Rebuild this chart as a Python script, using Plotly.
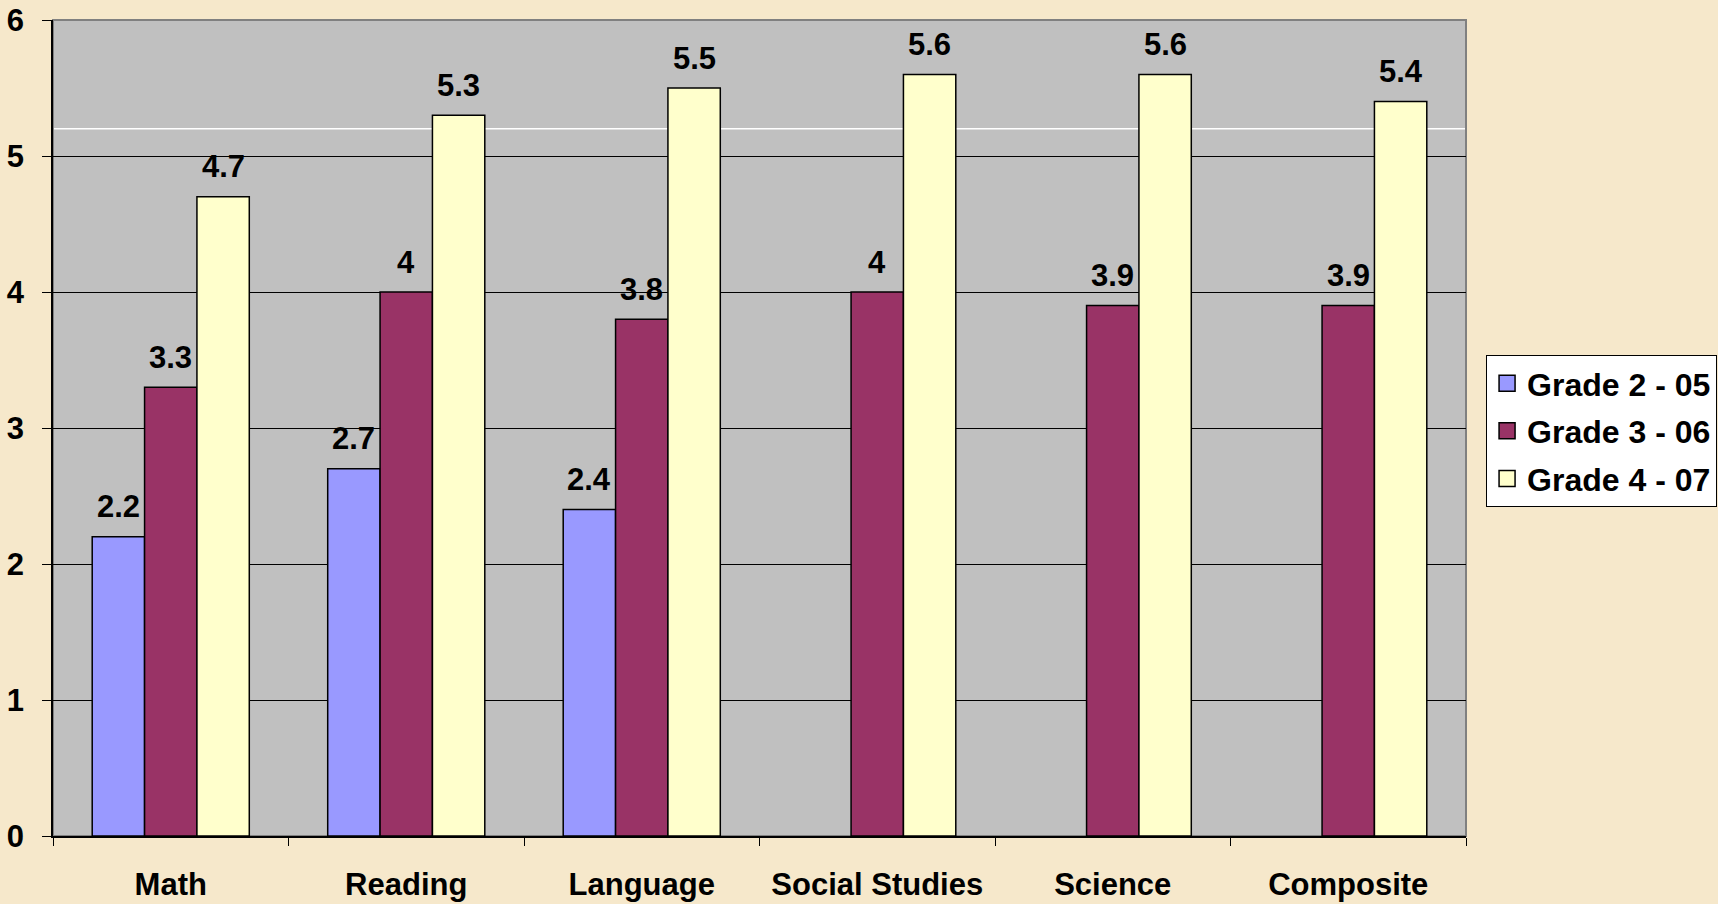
import plotly.graph_objects as go

categories = ["Math", "Reading", "Language", "Social Studies", "Science", "Composite"]
series_names = ["Grade 2 - 05", "Grade 3 - 06", "Grade 4 - 07"]
grade2_05 = [2.2, 2.7, 2.4, None, None, None]
grade3_06 = [3.3, 4.0, 3.8, 4.0, 3.9, 3.9]
grade4_07 = [4.7, 5.3, 5.5, 5.6, 5.6, 5.4]
y_ticks = [0, 1, 2, 3, 4, 5, 6]

colors = ["#9999FF", "#993366", "#FFFFCC"]
FONT = "Liberation Sans, Arial, sans-serif"
FS = 31

fig = go.Figure()
all_series = [grade2_05, grade3_06, grade4_07]
for name, vals, col in zip(series_names, all_series, colors):
    fig.add_trace(go.Bar(
        x=categories, y=vals, name=name, showlegend=False,
        marker=dict(color=col, line=dict(color="black", width=1.5)),
    ))
    # legend proxy with larger square swatch
    fig.add_trace(go.Scatter(
        x=[None], y=[None], mode="markers", name=name, legendgroup=name,
        marker=dict(symbol="square", size=16, color=col, line=dict(color="black", width=1.5)),
    ))

annotations = []
bar_px = 52.3
for i, vals in enumerate(all_series):
    for c, v in zip(categories, vals):
        if v is None:
            continue
        annotations.append(dict(
            x=c, y=v, text=f"<b>{v:g}</b>", showarrow=False,
            xshift=(i - 1) * bar_px, yshift=30, yanchor="middle",
            font=dict(family=FONT, size=FS, color="black"),
        ))

fig.update_layout(
    width=1718, height=904,
    margin=dict(l=53, r=252, t=20, b=68, autoexpand=False),
    paper_bgcolor="#f6e8cb",
    plot_bgcolor="#C0C0C0",
    barmode="group", bargap=0.333, bargroupgap=0,
    font=dict(family=FONT, size=FS, color="black"),
    annotations=annotations,
    legend=dict(
        x=1.0142, xanchor="left", y=0.5895, yanchor="top",
        bgcolor="white", bordercolor="black", borderwidth=1,
        font=dict(family=FONT, size=32, color="black", weight="bold"),
        tracegroupgap=3,
    ),
    shapes=[
        dict(type="line", xref="paper", yref="y", x0=0, x1=1, y0=5.2, y1=5.2,
             line=dict(color="white", width=1.5), layer="below"),
        dict(type="rect", xref="paper", yref="paper", x0=0, x1=1, y0=0, y1=1,
             line=dict(color="#808080", width=2), layer="below"),
    ],
)

fig.update_xaxes(
    type="category", tickson="boundaries", ticks="outside", ticklen=8,
    tickwidth=1, tickcolor="black", showline=True, linecolor="black", linewidth=1.5,
    showgrid=False, ticklabelstandoff=20, automargin=False,
    tickfont=dict(family=FONT, size=FS, color="black", weight="bold"),
)
fig.update_yaxes(
    range=[0, 6], tickvals=y_ticks, ticks="outside", ticklen=9, tickwidth=1,
    tickcolor="black", showline=True, linecolor="black", linewidth=1.5,
    showgrid=True, gridcolor="black", gridwidth=1, zeroline=False,
    ticklabelstandoff=12, automargin=False,
    tickfont=dict(family=FONT, size=FS, color="black", weight="bold"),
)

fig.write_html("out.html")
